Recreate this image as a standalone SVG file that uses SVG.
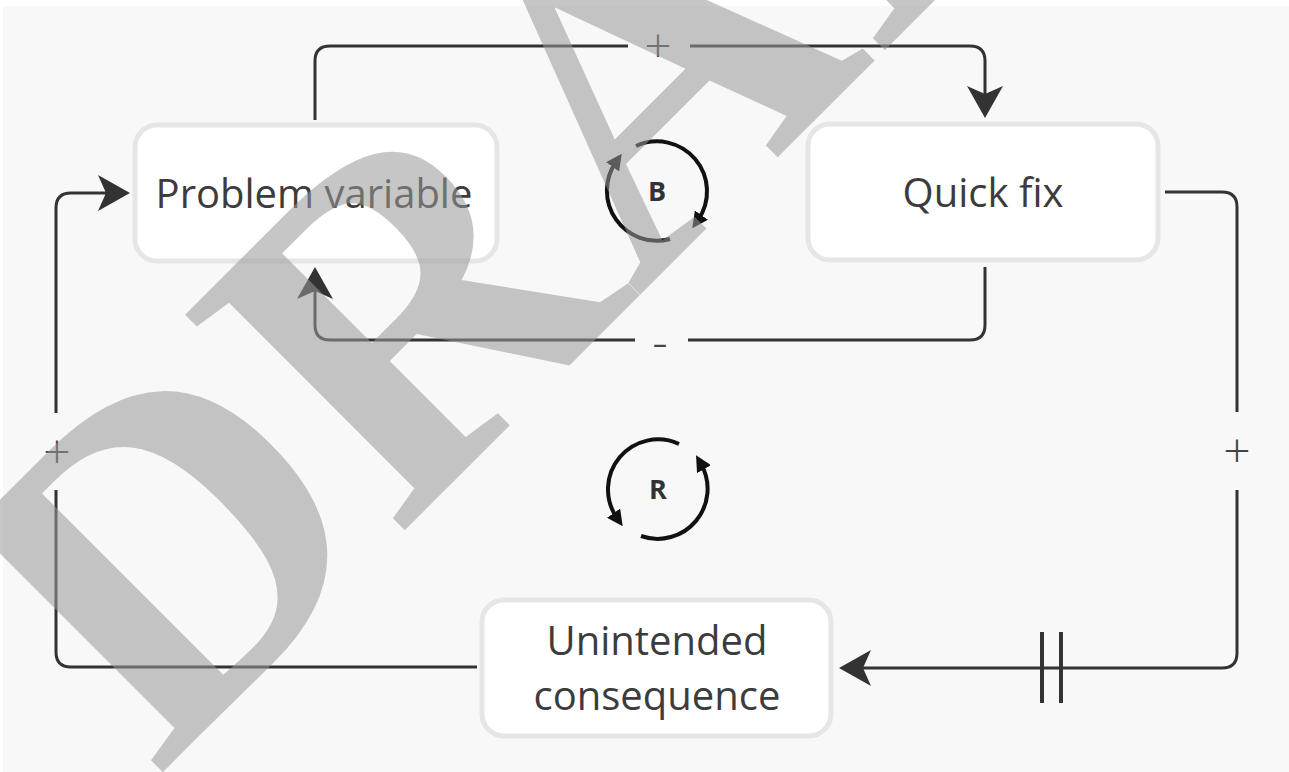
<svg xmlns="http://www.w3.org/2000/svg" width="1289" height="772" viewBox="0 0 1289 772">
<style>
.node rect{fill:#fff;stroke:#e6e6e6;stroke-width:5}
.node text{font-family:"Open Sans","Noto Sans",sans-serif;font-size:40px;fill:#3c3c3c;text-anchor:middle}
.conn{fill:none;stroke:#333;stroke-width:3}
.delay{fill:none;stroke:#333;stroke-width:4}
.lbl{font-family:"Open Sans","Noto Sans",sans-serif;font-size:48px;font-weight:300;fill:#444;text-anchor:middle}
.loop{fill:none;stroke:#111;stroke-width:4}
.loopt{font-family:"Open Sans","Noto Sans",sans-serif;font-size:27px;font-weight:bold;fill:#333;text-anchor:middle}
</style>
<defs>
<marker id="ah" viewBox="0 0 32 36" refX="24" refY="18" markerWidth="32" markerHeight="36" orient="auto" markerUnits="userSpaceOnUse">
<path d="M0,0 L32,18 L0,36 L8,18 Z" fill="#333"/>
</marker>
<marker id="la" viewBox="0 0 16 16" refX="6" refY="8" markerWidth="16" markerHeight="16" orient="auto" markerUnits="userSpaceOnUse">
<path d="M0,0 L16,8 L0,16 Z" fill="#111"/>
</marker>
</defs>
<rect x="0" y="0" width="1289" height="772" fill="#fff"/>
<rect x="3" y="6" width="1286" height="766" fill="#f8f8f8"/>
<g id="connectors">
<path class="conn" d="M315,120 V61 Q315,46 330,46 H628 M690,46 H970 Q985,46 985,61 V110" marker-end="url(#ah)"/>
<path class="conn" d="M985,267 V325 Q985,340 970,340 H688 M635,340 H330 Q315,340 315,325 V275" marker-end="url(#ah)"/>
<path class="conn" d="M1165,192 H1222 Q1237,192 1237,207 V412 M1237,490 V653 Q1237,668 1222,668 H847" marker-end="url(#ah)"/>
<path class="delay" d="M1042,632 V703 M1061,632 V703"/>
<path class="conn" d="M477,667 H71 Q56,667 56,652 V490 M56,413 V208 Q56,193 71,193 H122" marker-end="url(#ah)"/>
<text class="lbl" x="658" y="63">+</text>
<text class="lbl" x="660" y="359">-</text>
<text class="lbl" x="1237" y="468">+</text>
<text class="lbl" x="57" y="469">+</text>
</g>
<g id="problem-variable" class="node">
<rect x="135" y="125" width="362" height="136" rx="22"/>
<text x="314" y="208">Problem variable</text>
</g>
<g id="quick-fix" class="node">
<rect x="808" y="124" width="350" height="136" rx="22"/>
<text x="983" y="207">Quick fix</text>
</g>
<g id="unintended-consequence" class="node">
<rect x="482" y="600" width="349" height="136" rx="22"/>
<text x="657" y="655">Unintended</text>
<text x="657" y="710">consequence</text>
</g>
<g id="loop-b">
<path class="loop" d="M670,239 A50,50 0 0 1 616,162" marker-end="url(#la)"/>
<path class="loop" d="M636,146 A50,50 0 0 1 698,220" marker-end="url(#la)"/>
<text class="loopt" x="657" y="201">B</text>
</g>
<g id="loop-r">
<path class="loop" d="M679,444 A50,50 0 0 0 617,518" marker-end="url(#la)"/>
<path class="loop" d="M641,536 A50,50 0 0 0 701,464" marker-end="url(#la)"/>
<text class="loopt" x="658" y="499">R</text>
</g>
<g id="watermark" opacity="0.55">
<text transform="translate(157,778) rotate(-45)" x="0" y="0" font-family="Liberation Serif, serif" font-weight="bold" font-size="470" fill="#999">DRAFT</text>
</g>
</svg>
